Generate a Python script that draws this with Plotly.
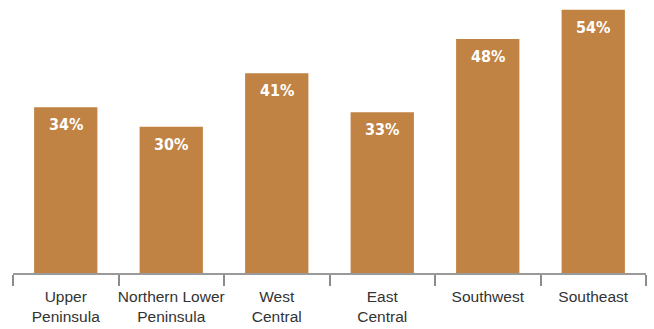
import plotly.graph_objects as go

categories = ["Upper<br>Peninsula", "Northern Lower<br>Peninsula", "West<br>Central",
              "East<br>Central", "Southwest", "Southeast"]
values = [34, 30, 41, 33, 48, 54]
labels = [f"{v}%" for v in values]

bar_color = "#C08343"

fig = go.Figure()
fig.add_trace(go.Bar(x=categories, y=values, marker_color=bar_color,
                     marker_line_width=0, hoverinfo="skip"))

for c, v, t in zip(categories, values, labels):
    fig.add_annotation(x=c, y=v, text=t, showarrow=False,
                       yanchor="top", yshift=-6,
                       font=dict(family="DejaVu Sans Condensed, DejaVu Sans, sans-serif",
                                 weight="bold", size=16, color="white"))

fig.update_layout(
    width=654, height=329,
    margin=dict(l=13, r=8, t=5, b=56),
    paper_bgcolor="white", plot_bgcolor="white",
    bargap=0.4, showlegend=False,
    xaxis=dict(type="category", tickson="boundaries", ticks="outside", ticklen=11,
               tickwidth=2, tickcolor="#8c8c8c", showline=True, linecolor="#9a9a9a",
               linewidth=2, showgrid=False, range=[-0.5, 5.5], tickangle=0,
               automargin=False, ticklabelstandoff=8,
               tickfont=dict(family="Liberation Sans, Arial, sans-serif", size=15.5, color="#333333")),
    yaxis=dict(range=[0, 55], visible=False, showgrid=False, zeroline=False),
)

fig.write_html("out.html")
